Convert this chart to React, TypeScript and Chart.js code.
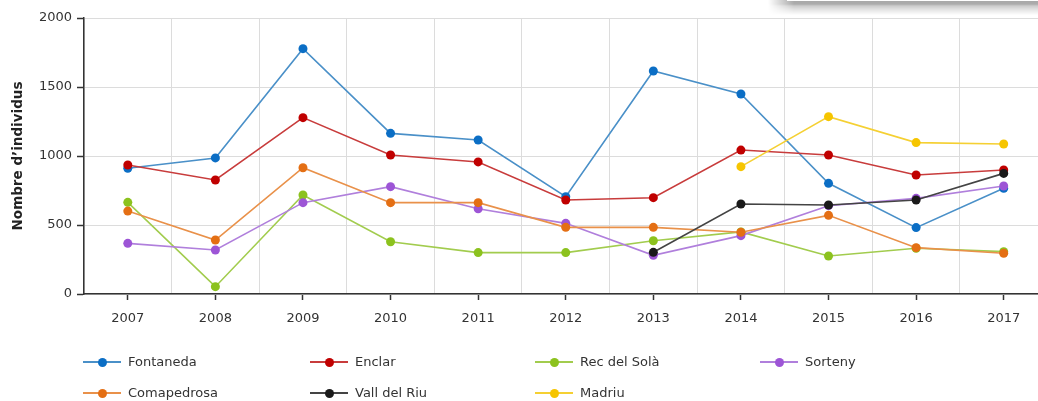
import React, { useEffect, useRef } from "react";
import { Chart, registerables } from "chart.js";

Chart.register(...registerables);

const years = ["2007", "2008", "2009", "2010", "2011", "2012", "2013", "2014", "2015", "2016", "2017"];

const fontaneda = [911, 986, 1778, 1164, 1116, 705, 1616, 1449, 802, 481, 766];
const enclar = [935, 826, 1278, 1007, 957, 681, 698, 1043, 1007, 862, 899];
const recDelSola = [664, 53, 717, 379, 300, 300, 386, 450, 275, 331, 307];
const sorteny = [367, 319, 662, 778, 618, 512, 280, 423, 640, 693, 783];
const comapedrosa = [601, 391, 915, 662, 662, 483, 483, 447, 570, 336, 295];
const vallDelRiu = [null, null, null, null, null, null, 302, 652, 645, 681, 874];
const madriu = [null, null, null, null, null, null, null, 923, 1285, 1097, 1087];

const seriesNames = ["Fontaneda", "Enclar", "Rec del Solà", "Sorteny", "Comapedrosa", "Vall del Riu", "Madriu"];
const seriesValues = [fontaneda, enclar, recDelSola, sorteny, comapedrosa, vallDelRiu, madriu];
const pointColors = ["#0b6ec5", "#c00000", "#8cc21e", "#9d55d6", "#e46f14", "#1a1a1a", "#f6c500"];
const lineColors = ["#4a90c8", "#c83c3c", "#a2cc4e", "#b07fdc", "#e9914a", "#444444", "#f5d033"];

const yMin = 0;
const yMax = 2000;
const yStep = 500;
const yTitle = "Nombre d’individus";

const FONT = "'DejaVu Sans', Verdana, sans-serif";

// legend layout: column line starts and row centers
const legendCols = [83, 310, 535, 760];
const legendRows = [362, 393];

export default function App() {
  const canvasRef = useRef<HTMLCanvasElement | null>(null);

  useEffect(() => {
    if (!canvasRef.current) return;
    const n = seriesNames.length;
    const chart = new Chart(canvasRef.current, {
      type: "line",
      data: {
        labels: years,
        datasets: seriesNames.map((name, i) => ({
          label: name,
          data: seriesValues[i],
          borderColor: lineColors[i],
          backgroundColor: pointColors[i],
          pointBackgroundColor: pointColors[i],
          pointBorderColor: pointColors[i],
          borderWidth: 1.6,
          pointRadius: 4.5,
          pointBorderWidth: 0,
          pointHoverRadius: 4.5,
          tension: 0,
          spanGaps: false,
          order: n - 1 - i,
        })),
      },
      options: {
        animation: false,
        responsive: true,
        maintainAspectRatio: false,
        layout: { padding: { top: 18, left: 0, right: 0, bottom: 0 } },
        plugins: { legend: { display: false }, tooltip: { enabled: false } },
        scales: {
          x: {
            type: "category",
            position: "bottom",
            offset: true,
            weight: 1,
            grid: { offset: true, color: "#dcdcdc", lineWidth: 1, drawTicks: false },
            border: { display: false },
            ticks: {
              color: "#333",
              font: { family: FONT, size: 13 },
              padding: 11,
              maxRotation: 0,
              autoSkip: false,
            },
            afterFit: (s: any) => {
              s.height = 101;
            },
          },
          x2: {
            type: "category",
            axis: "x",
            position: "bottom",
            offset: true,
            weight: 0,
            grid: {
              offset: false,
              drawOnChartArea: false,
              tickLength: 6,
              tickColor: "#333",
              tickWidth: 1.5,
            },
            border: { display: true, color: "#333", width: 1.5 },
            ticks: { display: false },
            afterFit: (s: any) => {
              s.height = 6;
            },
          },
          y: {
            min: yMin,
            max: yMax,
            ticks: {
              stepSize: yStep,
              color: "#333",
              font: { family: FONT, size: 13 },
              padding: 5,
              callback: (v: any) => String(v),
            },
            grid: { color: "#dcdcdc", lineWidth: 1, tickLength: 7, tickColor: "#333", tickWidth: 1.5 },
            border: { display: true, color: "#333", width: 1.5 },
            title: {
              display: true,
              text: yTitle,
              color: "#222",
              font: { family: FONT, size: 13.5, weight: "bold" },
              padding: { top: 10, bottom: 0 },
            },
            afterFit: (s: any) => {
              s.width = 84;
            },
          },
        },
      } as any,
    });
    return () => chart.destroy();
  }, []);

  return (
    <div
      style={{
        position: "fixed",
        left: 0,
        top: 0,
        width: 1038,
        height: 401,
        overflow: "hidden",
        background: "#fff",
      }}
    >
      <div style={{ position: "absolute", left: 0, top: 0, width: 1052, height: 401 }}>
        <canvas ref={canvasRef} />
      </div>
      {seriesNames.map((name, i) => {
        const col = i % 4;
        const row = Math.floor(i / 4);
        const x = legendCols[col];
        const y = legendRows[row];
        return (
          <div key={name} style={{ position: "absolute", left: x, top: y - 10, height: 20, width: 220 }}>
            <div
              style={{
                position: "absolute",
                left: 0,
                top: 9,
                width: 38,
                height: 2,
                background: lineColors[i],
              }}
            />
            <div
              style={{
                position: "absolute",
                left: 15,
                top: 5.5,
                width: 9,
                height: 9,
                borderRadius: "50%",
                background: pointColors[i],
              }}
            />
            <div
              style={{
                position: "absolute",
                left: 45,
                top: 0,
                height: 20,
                lineHeight: "20px",
                fontFamily: FONT,
                fontSize: 13,
                color: "#333",
                whiteSpace: "nowrap",
              }}
            >
              {name}
            </div>
          </div>
        );
      })}
      <div
        style={{
          position: "absolute",
          left: 768,
          top: 0,
          width: 270,
          height: 15,
          background:
            "linear-gradient(to bottom, rgba(0,0,0,0.34) 0px, rgba(0,0,0,0.33) 4px, rgba(0,0,0,0.2) 6px, rgba(0,0,0,0.1) 10px, rgba(0,0,0,0) 15px)",
          WebkitMaskImage: "linear-gradient(to right, transparent 0px, #000 26px)",
          maskImage: "linear-gradient(to right, transparent 0px, #000 26px)",
        }}
      />
      <div style={{ position: "absolute", left: 787, top: 0, width: 260, height: 1, background: "#fff" }} />
    </div>
  );
}
